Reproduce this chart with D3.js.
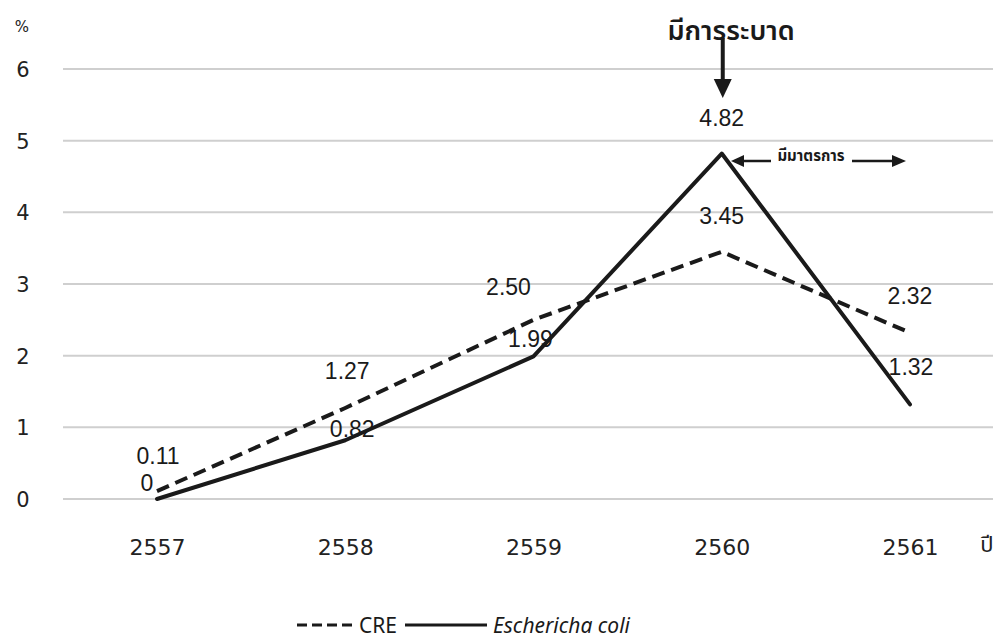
<!DOCTYPE html>
<html>
<head>
<meta charset="utf-8">
<script src="https://cdn.jsdelivr.net/npm/d3@7"></script>
<style>
  body { margin: 0; background: #fff; overflow: hidden; }
  svg { display: block; }
</style>
</head>
<body>
<div id="chart"></div>
<script>
// data
var years = ["2557", "2558", "2559", "2560", "2561"];
var creValues = [0.11, 1.27, 2.50, 3.45, 2.32];
var ecoliValues = [0, 0.82, 1.99, 4.82, 1.32];
var creLabels = ["0.11", "1.27", "2.50", "3.45", "2.32"];
var ecoliLabels = ["0", "0.82", "1.99", "4.82", "1.32"];
var yTicks = [0, 1, 2, 3, 4, 5, 6];

// label placement (layout only)
var creOffsets = [[1, -35], [2, -37], [-25, -33], [0, -36], [0, -37]];
var ecoliOffsets = [[-10, -16], [7, -11], [-3, -17], [0, -36], [1, -37]];

var W = 997, H = 643;
var thai = "'Noto Sans Thai', 'Loma', 'Garuda', 'Noto Sans', sans-serif";

var svg = d3.select("#chart").append("svg")
  .attr("width", W).attr("height", H)
  .attr("xmlns", "http://www.w3.org/2000/svg");

var x = d3.scalePoint().domain(years).range([157, 910]);
var y = d3.scaleLinear().domain([0, 6]).range([499, 69]);

// grid
svg.append("g").attr("class", "grid")
  .selectAll("line").data(yTicks).enter().append("line")
  .attr("x1", 63).attr("x2", 993)
  .attr("y1", function(d) { return y(d); })
  .attr("y2", function(d) { return y(d); })
  .attr("stroke", "#cfcfcf").attr("stroke-width", 2);

// y axis labels
var yAxis = svg.append("g").attr("transform", "translate(34,0)")
  .call(d3.axisLeft(y).tickValues(yTicks).tickSize(0).tickPadding(0).tickFormat(d3.format("d")));
yAxis.select(".domain").remove();
yAxis.selectAll("text")
  .attr("x", -11).attr("text-anchor", "middle").attr("dy", "0.35em")
  .style("font-family", "'DejaVu Sans', sans-serif").style("font-size", "21px").attr("fill", "#222");

svg.append("text").attr("x", 22).attr("y", 27)
  .attr("text-anchor", "middle").attr("dominant-baseline", "central")
  .style("font-family", "'DejaVu Sans', sans-serif").style("font-size", "15px").attr("fill", "#222")
  .text("%");

// x axis labels
var xAxis = svg.append("g").attr("transform", "translate(0,547)")
  .call(d3.axisBottom(x).tickSize(0).tickPadding(0));
xAxis.select(".domain").remove();
xAxis.selectAll("text")
  .attr("y", 0).attr("dy", "0.35em")
  .style("font-family", "'DejaVu Sans', sans-serif").style("font-size", "22px").attr("fill", "#222");

svg.append("text").attr("x", 987).attr("y", 545)
  .attr("text-anchor", "middle").attr("dominant-baseline", "central")
  .style("font-family", thai).style("font-size", "22px").attr("fill", "#222")
  .text("ปี");

// lines
var line = function(vals) {
  return d3.line()
    .x(function(d, i) { return x(years[i]); })
    .y(function(d) { return y(d); })(vals);
};

svg.append("path").attr("d", line(creValues))
  .attr("fill", "none").attr("stroke", "#1a1a1a").attr("stroke-width", 4)
  .attr("stroke-dasharray", "13,7").attr("stroke-linejoin", "round");

svg.append("path").attr("d", line(ecoliValues))
  .attr("fill", "none").attr("stroke", "#1a1a1a").attr("stroke-width", 4)
  .attr("stroke-linejoin", "round").attr("stroke-linecap", "round");

// data labels
function labels(vals, texts, offs, cls) {
  svg.append("g").attr("class", cls)
    .selectAll("text").data(vals).enter().append("text")
    .attr("x", function(d, i) { return x(years[i]) + offs[i][0]; })
    .attr("y", function(d, i) { return y(d) + offs[i][1]; })
    .attr("text-anchor", "middle").attr("dominant-baseline", "central")
    .style("font-family", "'Liberation Sans', Arial, sans-serif").style("font-size", "23px")
    .attr("fill", "#1a1a1a")
    .text(function(d, i) { return texts[i]; });
}
labels(creValues, creLabels, creOffsets, "cre-labels");
labels(ecoliValues, ecoliLabels, ecoliOffsets, "ecoli-labels");

// annotation: outbreak
var peakX = x("2560");
svg.append("text").attr("x", 731).attr("y", 31)
  .attr("text-anchor", "middle").attr("dominant-baseline", "central")
  .style("font-family", thai).style("font-size", "27px").style("font-weight", "600")
  .attr("fill", "#1a1a1a").text("มีการระบาด");

svg.append("line").attr("x1", peakX + 1).attr("x2", peakX + 1).attr("y1", 38).attr("y2", 82)
  .attr("stroke", "#1a1a1a").attr("stroke-width", 4);
svg.append("path")
  .attr("d", d3.line()([[peakX - 8, 79], [peakX + 10, 79], [peakX + 1, 98]]) + "Z")
  .attr("fill", "#1a1a1a");

// annotation: measures
var my = 161;
svg.append("text").attr("x", 811).attr("y", 156)
  .attr("text-anchor", "middle").attr("dominant-baseline", "central")
  .style("font-family", thai).style("font-size", "15px").style("font-weight", "bold")
  .attr("fill", "#1a1a1a").text("มีมาตรการ");
svg.append("line").attr("x1", 742).attr("x2", 771).attr("y1", my).attr("y2", my)
  .attr("stroke", "#1a1a1a").attr("stroke-width", 2.5);
svg.append("path").attr("d", d3.line()([[731, my], [744, my - 6], [744, my + 6]]) + "Z")
  .attr("fill", "#1a1a1a");
svg.append("line").attr("x1", 852).attr("x2", 893).attr("y1", my).attr("y2", my)
  .attr("stroke", "#1a1a1a").attr("stroke-width", 2.5);
svg.append("path").attr("d", d3.line()([[906, my], [892, my - 6], [892, my + 6]]) + "Z")
  .attr("fill", "#1a1a1a");

// legend
var lg = svg.append("g").attr("transform", "translate(0,625)");
lg.append("line").attr("x1", 297).attr("x2", 357).attr("y1", 0).attr("y2", 0)
  .attr("stroke", "#1a1a1a").attr("stroke-width", 3).attr("stroke-dasharray", "10,5");
lg.append("text").attr("x", 359).attr("y", 0).attr("dominant-baseline", "central")
  .style("font-family", "'Noto Sans', sans-serif").style("font-size", "21px").attr("fill", "#1a1a1a")
  .text("CRE");
lg.append("line").attr("x1", 405).attr("x2", 487).attr("y1", 0).attr("y2", 0)
  .attr("stroke", "#1a1a1a").attr("stroke-width", 3);
lg.append("text").attr("x", 493).attr("y", 0).attr("dominant-baseline", "central")
  .style("font-family", "'Noto Sans', sans-serif").style("font-size", "21px").style("font-style", "italic")
  .attr("fill", "#1a1a1a")
  .text("Escher" + "icha coli");
</script>
</body>
</html>
